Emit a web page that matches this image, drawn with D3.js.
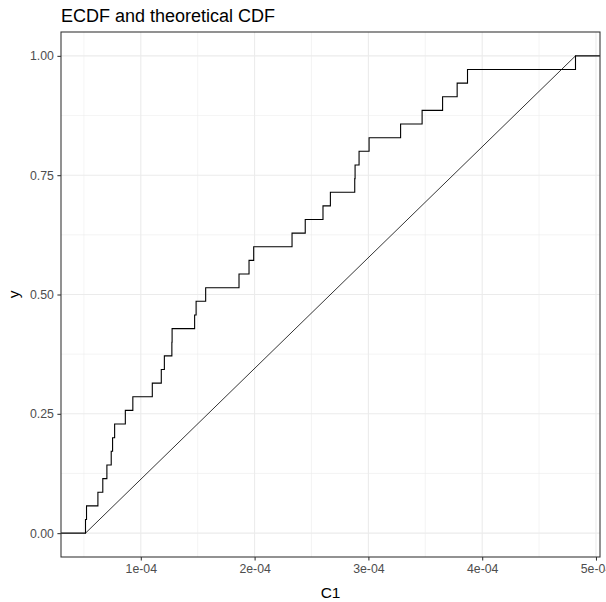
<!DOCTYPE html>
<html>
<head>
<meta charset="utf-8">
<script src="https://cdn.jsdelivr.net/npm/d3@7"></script>
<style>
  body { margin: 0; background: #fff; }
  svg { display: block; font-family: "Liberation Sans", Arial, sans-serif; }
  .grid-major { stroke: #EBEBEB; stroke-width: 1.07; }
  .grid-minor { stroke: #EBEBEB; stroke-width: 0.53; }
  .tick-label { fill: #4D4D4D; font-size: 12.3px; }
</style>
</head>
<body>
<div id="chart"></div>
<script>
// sorted sample values of C1 (each step of the ECDF)
const sampleC1 = [
    5.14e-5, 5.23e-5, 6.23e-5, 6.66e-5, 7.02e-5, 7.40e-5, 7.52e-5, 7.70e-5,
    8.64e-5, 9.30e-5, 1.101e-4, 1.180e-4, 1.207e-4, 1.273e-4, 1.275e-4,
    1.473e-4, 1.486e-4, 1.570e-4, 1.863e-4, 1.951e-4, 1.992e-4, 2.329e-4,
    2.445e-4, 2.601e-4, 2.666e-4, 2.880e-4, 2.883e-4, 2.918e-4, 3.006e-4,
    3.283e-4, 3.472e-4, 3.652e-4, 3.780e-4, 3.871e-4, 4.820e-4
];

// tick values and labels
const xTicks = [1e-4, 2e-4, 3e-4, 4e-4, 5e-4];
const xTickLabels = ["1e-04", "2e-04", "3e-04", "4e-04", "5e-04"];
const xMinorTicks = [0.5e-4, 1.5e-4, 2.5e-4, 3.5e-4, 4.5e-4];
const yTicks = [0, 0.25, 0.5, 0.75, 1];
const yTickLabels = ["0.00", "0.25", "0.50", "0.75", "1.00"];
const yMinorTicks = [0.125, 0.375, 0.625, 0.875];

function drawChart() {
    // panel position inside the 606x602 picture
    const margin = { top: 32, right: 6, bottom: 45, left: 61 };
    const fullWidth = 606, fullHeight = 602;
    const width = fullWidth - margin.left - margin.right;
    const height = fullHeight - margin.top - margin.bottom;

    const svg = d3.select("#chart")
        .append("svg")
        .attr("width", fullWidth)
        .attr("height", fullHeight);

    const chart = svg.append("g")
        .attr("transform", `translate(${margin.left},${margin.top})`);

    // ggplot style 5% expansion
    const [xMin, xMax] = d3.extent(sampleC1);
    const xPad = (xMax - xMin) * 0.05;
    const x = d3.scaleLinear()
        .domain([xMin - xPad, xMax + xPad])
        .range([0, width]);

    const y = d3.scaleLinear()
        .domain([-0.05, 1.05])
        .range([height, 0]);

    // minor grid
    chart.append("g").selectAll("line")
        .data(xMinorTicks.filter(v => v >= x.domain()[0] && v <= x.domain()[1]))
        .enter().append("line")
        .attr("class", "grid-minor")
        .attr("x1", d => x(d)).attr("x2", d => x(d))
        .attr("y1", 0).attr("y2", height);

    chart.append("g").selectAll("line")
        .data(yMinorTicks)
        .enter().append("line")
        .attr("class", "grid-minor")
        .attr("y1", d => y(d)).attr("y2", d => y(d))
        .attr("x1", 0).attr("x2", width);

    // major grid
    chart.append("g").selectAll("line")
        .data(xTicks.filter(v => v <= x.domain()[1]))
        .enter().append("line")
        .attr("class", "grid-major")
        .attr("x1", d => x(d)).attr("x2", d => x(d))
        .attr("y1", 0).attr("y2", height);

    chart.append("g").selectAll("line")
        .data(yTicks)
        .enter().append("line")
        .attr("class", "grid-major")
        .attr("y1", d => y(d)).attr("y2", d => y(d))
        .attr("x1", 0).attr("x2", width);

    // clip lines to the panel
    svg.append("clipPath").attr("id", "panel-clip")
        .append("rect").attr("width", width).attr("height", height);

    const lines = chart.append("g").attr("clip-path", "url(#panel-clip)");

    // theoretical uniform CDF between sample min and max
    const theoretical = [[xMin, 0], [xMax, 1]];
    lines.append("path")
        .datum(theoretical)
        .attr("fill", "none")
        .attr("stroke", "#000")
        .attr("stroke-width", 0.8)
        .attr("d", d3.line().x(d => x(d[0])).y(d => y(d[1])));

    // ECDF steps padded to the panel edges
    const n = sampleC1.length;
    const ecdfPoints = [[x.domain()[0], 0]]
        .concat(sampleC1.map((v, i) => [v, (i + 1) / n]))
        .concat([[x.domain()[1], 1]]);

    lines.append("path")
        .datum(ecdfPoints)
        .attr("fill", "none")
        .attr("stroke", "#000")
        .attr("stroke-width", 1.1)
        .attr("d", d3.line().curve(d3.curveStepAfter).x(d => x(d[0])).y(d => y(d[1])));

    // panel border
    chart.append("rect")
        .attr("width", width)
        .attr("height", height)
        .attr("fill", "none")
        .attr("stroke", "#333333")
        .attr("stroke-width", 1.07);

    // x axis
    const xAxis = chart.append("g")
        .attr("transform", `translate(0,${height})`)
        .call(d3.axisBottom(x)
            .tickValues(xTicks)
            .tickFormat((d, i) => xTickLabels[i])
            .tickSize(3.6)
            .tickPadding(3.5));
    xAxis.select(".domain").remove();
    xAxis.selectAll(".tick line").attr("stroke", "#333333").attr("stroke-width", 1.07);
    xAxis.selectAll(".tick text")
        .attr("class", "tick-label")
        .attr("font-family", null)
        .attr("font-size", null)
        .attr("fill", null);

    // y axis
    const yAxis = chart.append("g")
        .call(d3.axisLeft(y)
            .tickValues(yTicks)
            .tickFormat((d, i) => yTickLabels[i])
            .tickSize(3.6)
            .tickPadding(3.5));
    yAxis.select(".domain").remove();
    yAxis.selectAll(".tick line").attr("stroke", "#333333").attr("stroke-width", 1.07);
    yAxis.selectAll(".tick text")
        .attr("class", "tick-label")
        .attr("font-family", null)
        .attr("font-size", null)
        .attr("fill", null);

    // axis titles
    svg.append("text")
        .attr("x", margin.left + width / 2)
        .attr("y", 598)
        .attr("text-anchor", "middle")
        .attr("font-size", "15.4px")
        .attr("fill", "#000")
        .text("C1");

    svg.append("text")
        .attr("transform", `translate(19,${margin.top + height / 2}) rotate(-90)`)
        .attr("text-anchor", "middle")
        .attr("font-size", "15.4px")
        .attr("fill", "#000")
        .text("y");

    // title
    svg.append("text")
        .attr("x", margin.left)
        .attr("y", 22)
        .attr("font-size", "18px")
        .attr("fill", "#000")
        .text("ECDF and theoretical CDF");
}

window.onload = () => {
    drawChart();
};
</script>
</body>
</html>
